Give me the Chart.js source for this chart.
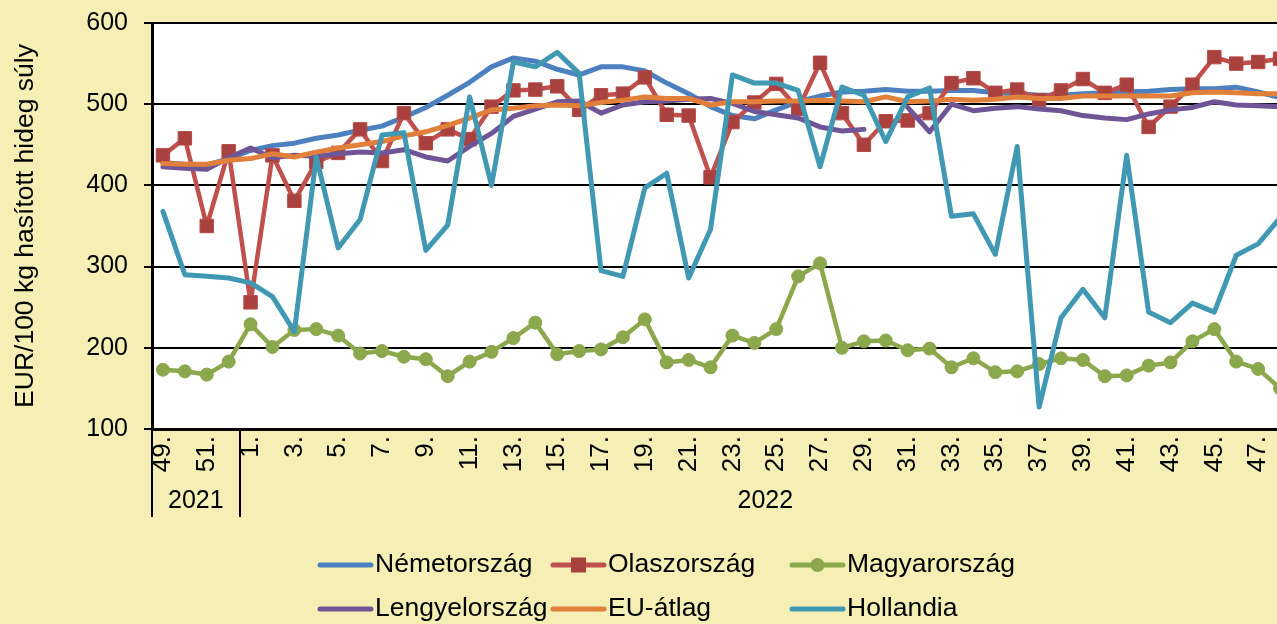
<!DOCTYPE html>
<html><head><meta charset="utf-8">
<script src="https://cdn.jsdelivr.net/npm/chart.js@4.4.0/dist/chart.umd.min.js"></script>
<style>
html,body{margin:0;padding:0;background:#F5EFB5;overflow:hidden;width:1277px;height:624px}
#wrap{position:absolute;left:0;top:0;width:1310px;height:624px}
</style></head><body>
<div id="wrap"><canvas id="c" width="1310" height="624"></canvas></div>
<script>
const weeks = ['49.','50.','51.','52.','1.','2.','3.','4.','5.','6.','7.','8.','9.','10.','11.','12.','13.','14.','15.','16.','17.','18.','19.','20.','21.','22.','23.','24.','25.','26.','27.','28.','29.','30.','31.','32.','33.','34.','35.','36.','37.','38.','39.','40.','41.','42.','43.','44.','45.','46.','47.','48.'];
const yearLabels = ['2021','2022'];
const yearSizes = [4, 48];
const yTicks = [100, 200, 300, 400, 500, 600];

const nemetorszag = [428,426,425,433,443,449,452,458,462,468,473,484,496,511,527,546,557,553,543,536,546,546,541,526,513,497,486,482,493,503,510,515,516,518,516,516,517,517,514,513,511,511,513,514,515,516,518,519,519,521,515,508];
const olaszorszag = [437,458,350,442,256,437,381,429,440,469,430,489,452,469,457,497,517,518,522,493,511,513,533,487,486,410,478,502,525,494,551,489,450,479,480,489,526,532,514,518,505,517,531,514,524,472,497,524,558,550,552,556];
const magyarorszag = [173,171,167,183,229,201,222,223,215,193,196,189,186,165,183,195,212,231,192,196,198,213,235,182,185,176,215,206,223,288,304,200,208,209,197,199,176,187,170,171,180,187,185,165,166,178,182,208,223,183,174,150];
const lengyelorszag = [423,421,420,434,446,434,437,436,439,441,440,444,435,430,448,464,485,494,503,504,489,499,503,504,506,507,501,491,487,483,472,467,469,null,496,466,500,492,495,497,494,492,486,483,481,488,493,496,503,499,498,497];
const euAtlag = [427,426,426,431,433,439,435,441,446,450,454,461,466,474,483,493,495,498,499,498,502,505,509,507,507,499,503,503,504,504,505,504,503,509,503,504,506,505,506,509,507,507,510,510,510,510,510,514,515,514,513,513];
const hollandia = [368,290,288,286,280,263,220,435,323,358,462,465,320,351,509,400,552,546,564,538,295,288,397,415,286,346,536,526,526,517,423,521,511,454,509,520,362,365,315,448,127,237,272,237,437,244,231,255,244,314,328,360];

const FONT = '"Liberation Sans", Arial, sans-serif';
Chart.defaults.font.family = FONT;
Chart.defaults.color = '#000';

function ds(label, data, color, order, extra) {
  return Object.assign({
    label, data, borderColor: color, backgroundColor: color,
    borderWidth: 5, pointRadius: 0, pointHoverRadius: 0, tension: 0,
    borderJoinStyle: 'round', borderCapStyle: 'round', spanGaps: false, order
  }, extra || {});
}

const datasets = [
  ds('Németország', nemetorszag, '#4D80BE', 6),
  ds('Olaszország', olaszorszag, '#C0504D', 5, {pointStyle: 'rect', pointRadius: 9.5, pointBackgroundColor: '#A9423F', pointBorderColor: '#B44845', pointBorderWidth: 1, borderWidth: 4.5}),
  ds('Magyarország', magyarorszag, '#8BA84D', 4, {pointStyle: 'circle', pointRadius: 6.5, pointBackgroundColor: '#8BA84D', pointBorderColor: '#8BA84D', pointBorderWidth: 1, borderWidth: 4.5}),
  ds('Lengyelország', lengyelorszag, '#705596', 3),
  ds('EU-átlag', euAtlag, '#E0803A', 2),
  ds('Hollandia', hollandia, '#4098B2', 1)
];

const PLOT_TOP = 23, PLOT_BOTTOM = 429, PLOT_LEFT = 152, PLOT_RIGHT = 1291;

const decor = {
  id: 'decor',
  beforeDraw(chart) {
    const {ctx, chartArea: a} = chart;
    ctx.save();
    ctx.fillStyle = '#F5EFB5';
    ctx.fillRect(0, 0, chart.width, chart.height);
    ctx.fillStyle = '#FFFFFF';
    ctx.fillRect(a.left, a.top, a.right - a.left, a.bottom - a.top);
    ctx.restore();
  },
  afterDraw(chart) {
    const ctx = chart.ctx, xs = chart.scales.x, bottom = chart.chartArea.bottom;
    const step = xs.getPixelForValue(1) - xs.getPixelForValue(0);
    ctx.save();
    ctx.strokeStyle = '#000'; ctx.lineWidth = 2;
    ctx.font = '25px ' + FONT; ctx.fillStyle = '#000';
    ctx.textAlign = 'center'; ctx.textBaseline = 'middle';
    let start = 0;
    const bounds = [xs.getPixelForValue(0) - step / 2];
    yearSizes.forEach((n, gi) => {
      const l = xs.getPixelForValue(start) - step / 2;
      const r = xs.getPixelForValue(start + n - 1) + step / 2;
      bounds.push(r);
      ctx.fillText(yearLabels[gi], (l + r) / 2, 501);
      start += n;
    });
    bounds.forEach(px => {
      const p = Math.round(px);
      ctx.beginPath(); ctx.moveTo(p, bottom); ctx.lineTo(p, 517); ctx.stroke();
    });
    // legend
    const colX = [318, 551, 790], rowY = [565, 609];
    chart.data.datasets.forEach((d, i) => {
      const x0 = colX[i % 3], y0 = rowY[Math.floor(i / 3)];
      ctx.strokeStyle = d.borderColor; ctx.lineWidth = 5; ctx.lineCap = 'round';
      ctx.beginPath(); ctx.moveTo(x0 + 2, y0); ctx.lineTo(x0 + 53, y0); ctx.stroke();
      if (d.pointStyle === 'rect') {
        ctx.fillStyle = d.pointBackgroundColor;
        ctx.fillRect(x0 + 27.5 - 7.5, y0 - 7.5, 15, 15);
      } else if (d.pointStyle === 'circle') {
        ctx.fillStyle = d.pointBackgroundColor;
        ctx.beginPath(); ctx.arc(x0 + 27.5, y0, 7, 0, Math.PI * 2); ctx.fill();
      }
      ctx.fillStyle = '#000'; ctx.font = '26.5px ' + FONT;
      ctx.textAlign = 'left'; ctx.textBaseline = 'middle';
      ctx.fillText(d.label, x0 + 57, y0);
    });
    ctx.restore();
  }
};

new Chart(document.getElementById('c'), {
  type: 'line',
  data: { labels: weeks, datasets },
  options: {
    responsive: false,
    animation: false,
    layout: { padding: { top: PLOT_TOP, left: 0, right: 1310 - PLOT_RIGHT, bottom: 0 } },
    plugins: { legend: { display: false }, tooltip: { enabled: false } },
    scales: {
      x: {
        type: 'category',
        offset: true,
        grid: { display: false, drawTicks: false },
        border: { display: true, color: '#000', width: 3 },
        ticks: {
          autoSkip: false, maxRotation: 90, minRotation: 90, padding: 7,
          font: { size: 26 }, color: '#000',
          callback: function (v, i) { return i % 2 === 0 ? this.getLabelForValue(v) : ''; }
        },
        afterFit(s) { s.height = 624 - PLOT_BOTTOM; s.paddingLeft = 0; s.paddingRight = 0; }
      },
      y: {
        min: yTicks[0], max: yTicks[yTicks.length - 1],
        afterBuildTicks(s) { s.ticks = yTicks.map(v => ({ value: v })); },
        grid: { color: '#000', lineWidth: 2, tickLength: 8, drawTicks: true },
        border: { display: true, color: '#000', width: 3 },
        ticks: { padding: 16, font: { size: 25 }, color: '#000' },
        title: { display: true, text: 'EUR/100 kg hasított hideg súly', font: { size: 26.5 }, color: '#000', padding: { top: 10, bottom: 0 } },
        afterFit(s) { s.width = PLOT_LEFT; s.paddingTop = 0; s.paddingBottom = 0; }
      }
    }
  },
  plugins: [decor]
});
</script>
</body></html>
